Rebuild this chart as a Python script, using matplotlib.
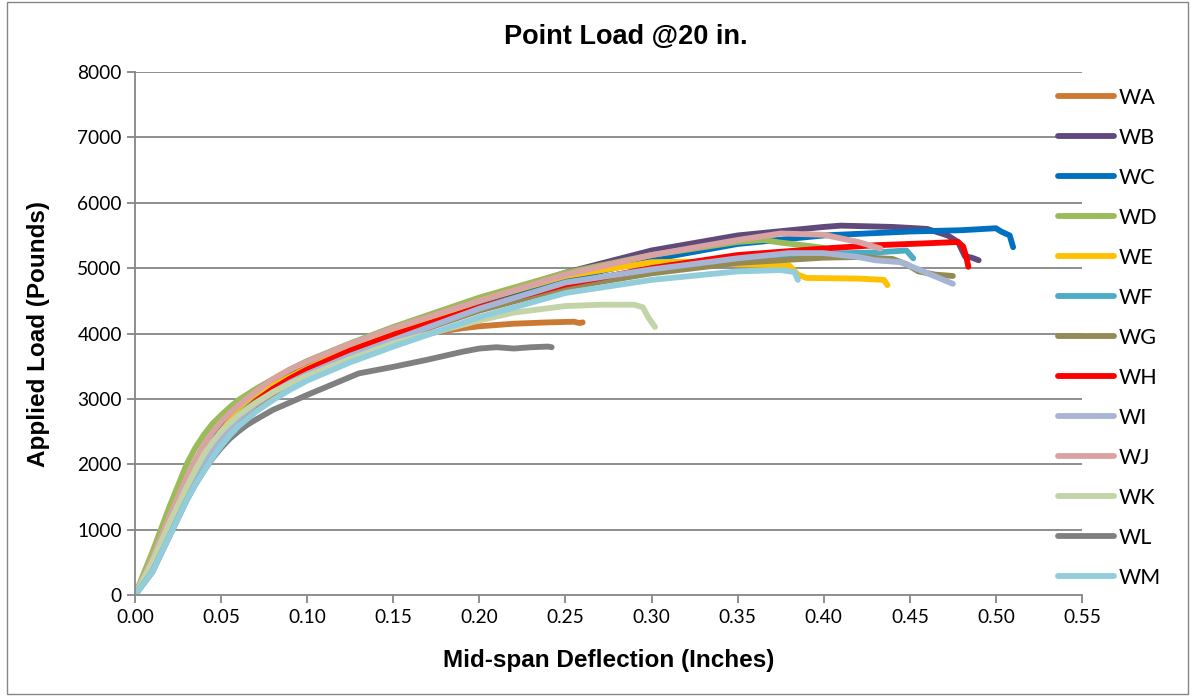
import matplotlib
matplotlib.use("Agg")
import matplotlib.pyplot as plt
from matplotlib.patches import Rectangle

plt.rcParams['font.family'] = ['Lato', 'DejaVu Sans']

names = ["WA", "WB", "WC", "WD", "WE", "WF", "WG", "WH", "WI", "WJ", "WK", "WL", "WM"]
colors = ["#CC7A33", "#604A7B", "#0070C0", "#9BBB59", "#FFC000", "#4BACC6",
          "#948A54", "#FF0000", "#A5B5D3", "#D9A3A3", "#C3D4A8", "#808080", "#92CDDC"]

wa_x = [0, 0.01, 0.02, 0.03, 0.035, 0.04, 0.045, 0.05, 0.055, 0.06, 0.07, 0.08, 0.09, 0.10, 0.125, 0.15, 0.17, 0.19, 0.20, 0.22, 0.24, 0.255, 0.258, 0.26]
wa_y = [0, 450, 1000, 1550, 1800, 2000, 2200, 2380, 2530, 2650, 2870, 3050, 3210, 3350, 3640, 3880, 4000, 4080, 4110, 4150, 4170, 4180, 4160, 4170]

wb_x = [0, 0.01, 0.02, 0.03, 0.035, 0.04, 0.045, 0.05, 0.055, 0.06, 0.07, 0.08, 0.09, 0.10, 0.125, 0.15, 0.20, 0.25, 0.30, 0.35, 0.40, 0.41, 0.44, 0.46, 0.472, 0.478, 0.482, 0.486, 0.49]
wb_y = [0, 500, 1100, 1700, 1960, 2200, 2390, 2550, 2710, 2850, 3070, 3250, 3400, 3520, 3800, 4050, 4520, 4930, 5270, 5500, 5630, 5650, 5630, 5600, 5500, 5400, 5180, 5160, 5120]

wc_x = [0, 0.01, 0.02, 0.03, 0.035, 0.04, 0.045, 0.05, 0.055, 0.06, 0.07, 0.08, 0.09, 0.10, 0.125, 0.15, 0.20, 0.25, 0.30, 0.35, 0.40, 0.45, 0.48, 0.50, 0.503, 0.508, 0.51]
wc_y = [0, 450, 1000, 1550, 1820, 2050, 2270, 2450, 2610, 2750, 2970, 3150, 3310, 3450, 3750, 4000, 4450, 4830, 5130, 5370, 5500, 5560, 5580, 5610, 5560, 5500, 5320]

wd_x = [0, 0.01, 0.02, 0.03, 0.035, 0.04, 0.045, 0.05, 0.055, 0.06, 0.07, 0.08, 0.09, 0.10, 0.125, 0.15, 0.20, 0.25, 0.30, 0.35, 0.365, 0.375, 0.385, 0.40]
wd_y = [0, 650, 1350, 2000, 2250, 2450, 2620, 2750, 2870, 2980, 3150, 3300, 3450, 3580, 3850, 4100, 4550, 4930, 5200, 5400, 5430, 5390, 5360, 5310]

we_x = [0, 0.01, 0.02, 0.03, 0.035, 0.04, 0.045, 0.05, 0.055, 0.06, 0.07, 0.08, 0.09, 0.10, 0.125, 0.15, 0.20, 0.25, 0.30, 0.32, 0.35, 0.38, 0.385, 0.39, 0.42, 0.435, 0.437]
we_y = [0, 450, 1050, 1600, 1860, 2100, 2310, 2500, 2660, 2800, 3020, 3200, 3340, 3470, 3760, 4020, 4500, 4880, 5090, 5100, 5060, 5040, 4900, 4850, 4840, 4820, 4740]

wf_x = [0, 0.01, 0.02, 0.03, 0.035, 0.04, 0.045, 0.05, 0.055, 0.06, 0.07, 0.08, 0.09, 0.10, 0.125, 0.15, 0.20, 0.25, 0.30, 0.35, 0.40, 0.43, 0.448, 0.452]
wf_y = [0, 450, 1000, 1550, 1820, 2050, 2270, 2450, 2610, 2750, 2970, 3150, 3300, 3420, 3700, 3950, 4400, 4750, 5000, 5150, 5220, 5240, 5270, 5150]

wg_x = [0, 0.01, 0.02, 0.03, 0.035, 0.04, 0.045, 0.05, 0.055, 0.06, 0.07, 0.08, 0.09, 0.10, 0.125, 0.15, 0.20, 0.25, 0.30, 0.35, 0.40, 0.42, 0.44, 0.448, 0.455, 0.465, 0.475]
wg_y = [0, 450, 1000, 1550, 1820, 2050, 2250, 2420, 2570, 2700, 2920, 3100, 3250, 3380, 3660, 3900, 4350, 4700, 4920, 5080, 5160, 5170, 5140, 5060, 4950, 4900, 4880]

wh_x = [0, 0.01, 0.02, 0.03, 0.035, 0.04, 0.045, 0.05, 0.055, 0.06, 0.07, 0.08, 0.09, 0.10, 0.125, 0.15, 0.20, 0.25, 0.30, 0.35, 0.40, 0.43, 0.46, 0.478, 0.481, 0.483, 0.484]
wh_y = [0, 450, 1000, 1550, 1820, 2050, 2270, 2450, 2600, 2720, 2960, 3150, 3310, 3450, 3740, 3980, 4400, 4750, 5000, 5200, 5300, 5350, 5380, 5400, 5330, 5150, 5020]

wi_x = [0, 0.01, 0.02, 0.03, 0.035, 0.04, 0.045, 0.05, 0.055, 0.06, 0.07, 0.08, 0.09, 0.10, 0.125, 0.15, 0.20, 0.25, 0.30, 0.35, 0.38, 0.40, 0.42, 0.43, 0.445, 0.455, 0.465, 0.475]
wi_y = [0, 450, 1000, 1550, 1820, 2050, 2240, 2400, 2560, 2700, 2920, 3100, 3250, 3380, 3660, 3900, 4380, 4780, 4980, 5150, 5230, 5230, 5170, 5120, 5090, 4980, 4870, 4760]

wj_x = [0, 0.01, 0.02, 0.03, 0.035, 0.04, 0.045, 0.05, 0.055, 0.06, 0.07, 0.08, 0.09, 0.10, 0.125, 0.15, 0.20, 0.25, 0.30, 0.35, 0.375, 0.40, 0.42, 0.433]
wj_y = [0, 550, 1200, 1800, 2060, 2300, 2490, 2650, 2780, 2900, 3110, 3300, 3450, 3570, 3840, 4080, 4500, 4900, 5200, 5430, 5530, 5510, 5400, 5300]

wk_x = [0, 0.01, 0.02, 0.03, 0.035, 0.04, 0.045, 0.05, 0.055, 0.06, 0.07, 0.08, 0.09, 0.10, 0.125, 0.15, 0.20, 0.22, 0.25, 0.27, 0.29, 0.295, 0.298, 0.302]
wk_y = [0, 500, 1100, 1650, 1910, 2150, 2340, 2500, 2630, 2750, 2940, 3100, 3230, 3350, 3610, 3850, 4200, 4320, 4420, 4440, 4440, 4400, 4250, 4100]

wl_x = [0, 0.01, 0.02, 0.03, 0.035, 0.04, 0.045, 0.05, 0.055, 0.06, 0.065, 0.07, 0.08, 0.10, 0.12, 0.13, 0.15, 0.17, 0.19, 0.20, 0.21, 0.22, 0.23, 0.24, 0.242]
wl_y = [0, 350, 900, 1450, 1690, 1900, 2090, 2250, 2390, 2500, 2600, 2680, 2830, 3060, 3280, 3390, 3490, 3600, 3720, 3770, 3790, 3770, 3790, 3800, 3790]

wm_x = [0, 0.01, 0.02, 0.03, 0.035, 0.04, 0.045, 0.05, 0.055, 0.06, 0.07, 0.08, 0.09, 0.10, 0.125, 0.15, 0.20, 0.25, 0.30, 0.35, 0.375, 0.383, 0.385]
wm_y = [0, 350, 900, 1450, 1690, 1900, 2100, 2280, 2440, 2580, 2800, 2980, 3140, 3280, 3560, 3800, 4250, 4620, 4820, 4950, 4970, 4940, 4820]

series_x = [wa_x, wb_x, wc_x, wd_x, we_x, wf_x, wg_x, wh_x, wi_x, wj_x, wk_x, wl_x, wm_x]
series_y = [wa_y, wb_y, wc_y, wd_y, we_y, wf_y, wg_y, wh_y, wi_y, wj_y, wk_y, wl_y, wm_y]

x_ticks = [0.00, 0.05, 0.10, 0.15, 0.20, 0.25, 0.30, 0.35, 0.40, 0.45, 0.50, 0.55]
y_ticks = [0, 1000, 2000, 3000, 4000, 5000, 6000, 7000, 8000]

fig = plt.figure(figsize=(11.95, 6.96), dpi=100)
ax = fig.add_axes([135/1195, 1-595/696, (1082-135)/1195, (595-72)/696])

grid_c = "#868686"
for yt in y_ticks[1:]:
    ax.axhline(yt, color=grid_c, lw=1.3, zorder=0)

lines = []
for n, c, xs, ys in zip(names, colors, series_x, series_y):
    ln, = ax.plot(xs, ys, color=c, lw=4.2, solid_capstyle='round', solid_joinstyle='round', label=n, zorder=2)
    lines.append(ln)

ax.set_xlim(0, 0.55)
ax.set_ylim(0, 8000)
ax.set_xticks(x_ticks)
ax.set_xticklabels([f"{v:.2f}" for v in x_ticks])
ax.set_yticks(y_ticks)
ax.set_yticklabels([str(v) for v in y_ticks])
for s in ["top", "right"]:
    ax.spines[s].set_visible(False)
for s in ["left", "bottom"]:
    ax.spines[s].set_color(grid_c)
    ax.spines[s].set_linewidth(1.3)
ax.tick_params(axis='both', colors=grid_c, length=6, width=1.3, labelsize=13.8, labelcolor='black', direction='out')
ax.tick_params(axis='x', pad=4)

bold_fam = ['Liberation Sans', 'DejaVu Sans']
ax.set_xlabel("Mid-span Deflection (Inches)", fontsize=17.5, fontweight='bold', family=bold_fam, labelpad=17)
ax.set_ylabel("Applied Load (Pounds)", fontsize=17.5, fontweight='bold', family=bold_fam, labelpad=20)
fig.text(0.5235, 1-37/696, "Point Load @20 in.", ha='center', va='center', fontsize=19.5,
         fontweight='bold', family=bold_fam)

leg = fig.legend(handles=lines, loc='upper left', bbox_to_anchor=(1049/1195, 1-79/696),
                 frameon=False, fontsize=15.5, handlelength=2.6, handletextpad=0.23,
                 labelspacing=0.93, borderaxespad=0)
for h in leg.legend_handles:
    h.set_linewidth(4.2)
    h.set_solid_capstyle('round')

fig.patches.append(Rectangle((7/1195, 2/696), 1181/1195, 692/696, transform=fig.transFigure,
                             fill=False, edgecolor="#868686", lw=1.0))

fig.savefig("out.png", dpi=100)
